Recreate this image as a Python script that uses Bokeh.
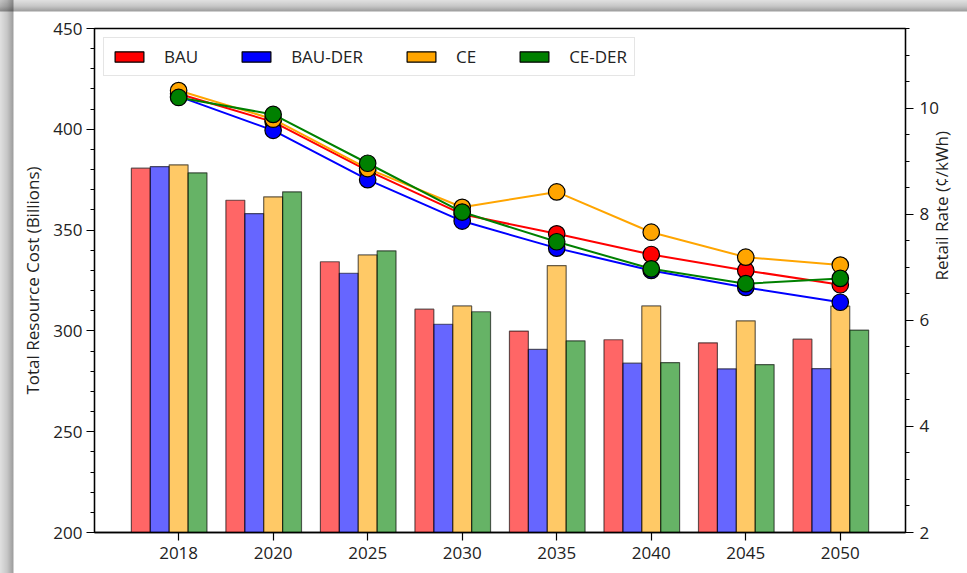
import math
from bokeh.plotting import figure
from bokeh.models import (Range1d, LinearAxis, FixedTicker, Legend, LegendItem,
                          ColumnDataSource)
from bokeh.embed import file_html
from bokeh.resources import INLINE

years = ["2018", "2020", "2025", "2030", "2035", "2040", "2045", "2050"]
scenarios = ["BAU", "BAU-DER", "CE", "CE-DER"]
colors = ["red", "blue", "orange", "green"]

cost_bau = [380.7, 364.8, 334.3, 310.8, 299.9, 295.6, 294.1, 295.9]
cost_bau_der = [381.5, 358.2, 328.6, 303.3, 290.8, 284.0, 281.2, 281.3]
cost_ce = [382.4, 366.5, 337.7, 312.4, 332.4, 312.4, 305.0, 312.3]
cost_ce_der = [378.4, 369.0, 339.7, 309.5, 295.1, 284.3, 283.3, 300.4]

rate_bau = [10.27, 9.74, 8.82, 8.00, 7.63, 7.24, 6.94, 6.67]
rate_bau_der = [10.22, 9.58, 8.65, 7.87, 7.36, 6.94, 6.62, 6.34]
rate_ce = [10.33, 9.79, 8.86, 8.13, 8.42, 7.66, 7.19, 7.04]
rate_ce_der = [10.20, 9.88, 8.96, 8.04, 7.48, 6.97, 6.69, 6.79]

costs = [cost_bau, cost_bau_der, cost_ce, cost_ce_der]
rates = [rate_bau, rate_bau_der, rate_ce, rate_ce_der]
offsets = [-0.4, -0.2, 0.0, 0.2]
bar_width = 0.2
x_lo, x_hi = -0.89, 7.69
y_lo, y_hi = 200, 450
r_lo, r_hi = 2, 11.5

FONT = "Open Sans"
TXT = "#222222"

p = figure(width=967, height=573,
           min_border_left=94, min_border_right=62, min_border_top=28, min_border_bottom=41,
           x_range=Range1d(x_lo, x_hi), y_range=Range1d(y_lo, y_hi),
           output_backend="svg", toolbar_location=None, tools="")
p.extra_y_ranges = {"right": Range1d(r_lo, r_hi)}
p.xgrid.visible = False
p.ygrid.visible = False
p.outline_line_color = "black"
p.outline_line_width = 1.3
p.background_fill_color = "white"
p.border_fill_color = "white"
p.border_fill_alpha = 0.0
# soft shadow strip along the top and left edges of the card
p.styles = {
    "background": ("linear-gradient(to right, rgba(0,0,0,0.12) 0px, rgba(0,0,0,0.22) 7px, "
                   "rgba(0,0,0,0.38) 13px, transparent 14px), "
                   "linear-gradient(to bottom, rgba(0,0,0,0.12) 0px, rgba(0,0,0,0.22) 6px, "
                   "rgba(0,0,0,0.38) 11px, transparent 12px), "
                   "white"),
}

idx = list(range(len(years)))

for k in range(4):
    src = ColumnDataSource(dict(x=[i + offsets[k] for i in idx], top=costs[k]))
    p.vbar(x="x", top="top", bottom=y_lo, width=bar_width, source=src,
           fill_color=colors[k], fill_alpha=0.6,
           line_color="black", line_alpha=0.6, line_width=1.2)

for k in range(4):
    src = ColumnDataSource(dict(x=idx, y=rates[k]))
    p.line(x="x", y="y", source=src, line_color=colors[k], line_width=2, y_range_name="right")
    p.scatter(x="x", y="y", source=src, size=16.5, marker="circle", fill_color=colors[k],
              line_color="black", line_width=1.2, y_range_name="right")

# legend proxies (no visible bar: top is NaN)
items = []
for k in range(4):
    r = p.vbar(x=[0], top=[float("nan")], bottom=[float("nan")], width=0.1,
               fill_color=colors[k], line_color="black", line_width=1.2)
    items.append(LegendItem(label=scenarios[k], renderers=[r]))

legend = Legend(items=items, orientation="horizontal", location="top_left",
                glyph_width=36, glyph_height=13, label_standoff=17, spacing=40,
                padding=7, margin=9, label_height=20,
                label_text_font=FONT, label_text_font_size="17px", label_text_color=TXT,
                border_line_color="#cccccc", border_line_width=1,
                background_fill_color="white", background_fill_alpha=0.85)
p.add_layout(legend, "center")


def style_axis(ax):
    ax.major_label_text_font = FONT
    ax.major_label_text_font_size = "17px"
    ax.major_label_text_color = TXT
    ax.axis_label_text_font = FONT
    ax.axis_label_text_font_size = "17px"
    ax.axis_label_text_font_style = "normal"
    ax.axis_label_text_color = TXT
    ax.axis_line_color = "black"
    ax.axis_line_width = 1.3
    ax.major_tick_line_color = "black"
    ax.minor_tick_line_color = "black"
    ax.major_tick_line_width = 1.2
    ax.minor_tick_line_width = 1
    ax.major_tick_out = 8
    ax.major_tick_in = 0
    ax.minor_tick_out = 4
    ax.minor_tick_in = 0
    ax.major_label_standoff = 6


xa = p.xaxis[0]
style_axis(xa)
xa.ticker = FixedTicker(ticks=idx)
xa.major_label_overrides = {i: y for i, y in enumerate(years)}
xa.major_label_standoff = 6

ya = p.yaxis[0]
style_axis(ya)
ya.ticker = FixedTicker(ticks=[200, 250, 300, 350, 400, 450],
                        minor_ticks=list(range(200, 451, 10)))
ya.major_label_standoff = 4
ya.axis_label = "Total Resource Cost (Billions)"
ya.axis_label_standoff = 6

ra = LinearAxis(y_range_name="right")
style_axis(ra)
ra.ticker = FixedTicker(ticks=[2, 4, 6, 8, 10],
                        minor_ticks=[2 + 0.5 * i for i in range(20)])
ra.major_label_standoff = 6
ra.axis_label = "Retail Rate (¢/kWh)"
ra.axis_label_standoff = 0
ra.axis_label_orientation = math.pi / 2
p.add_layout(ra, "right")

open("out.html", "w").write(file_html(p, INLINE))
